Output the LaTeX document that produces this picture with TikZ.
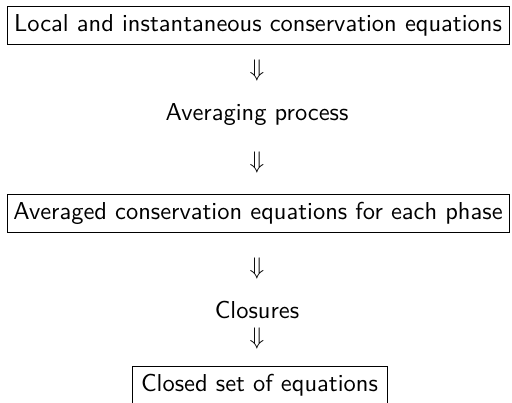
\documentclass[tikz,border=0pt]{standalone}
\begin{document}
\begin{tikzpicture}[x=0.4167pt,y=-0.4167pt,
  every node/.style={font=\fontsize{10.2}{12}\selectfont\sffamily, inner sep=0pt},
  framebox/.style={draw, line width=0.4pt, minimum height=38*0.4167pt, anchor=center},
  arrowsym/.style={font=\fontsize{10.2}{12}\selectfont}]
\clip (0,0) rectangle (512,402);
\node[framebox, minimum width=502*0.4167pt] (local) at (258,25) {Local and instantaneous conservation equations};
\node[arrowsym] (a1) at (257,70) {$\Downarrow$};
\node (avg) at (257,115) {Averaging process};
\node[arrowsym] (a2) at (257,162) {$\Downarrow$};
\node[framebox, minimum width=502*0.4167pt] (avgeq) at (258,213.5) {Averaged conservation equations for each phase};
\node[arrowsym] (a3) at (257,268) {$\Downarrow$};
\node (clos) at (257,310) {Closures};
\node[arrowsym] (a4) at (257,338) {$\Downarrow$};
\node[framebox, minimum width=255*0.4167pt] (closed) at (259.5,385) {Closed set of equations};
\end{tikzpicture}
\end{document}
